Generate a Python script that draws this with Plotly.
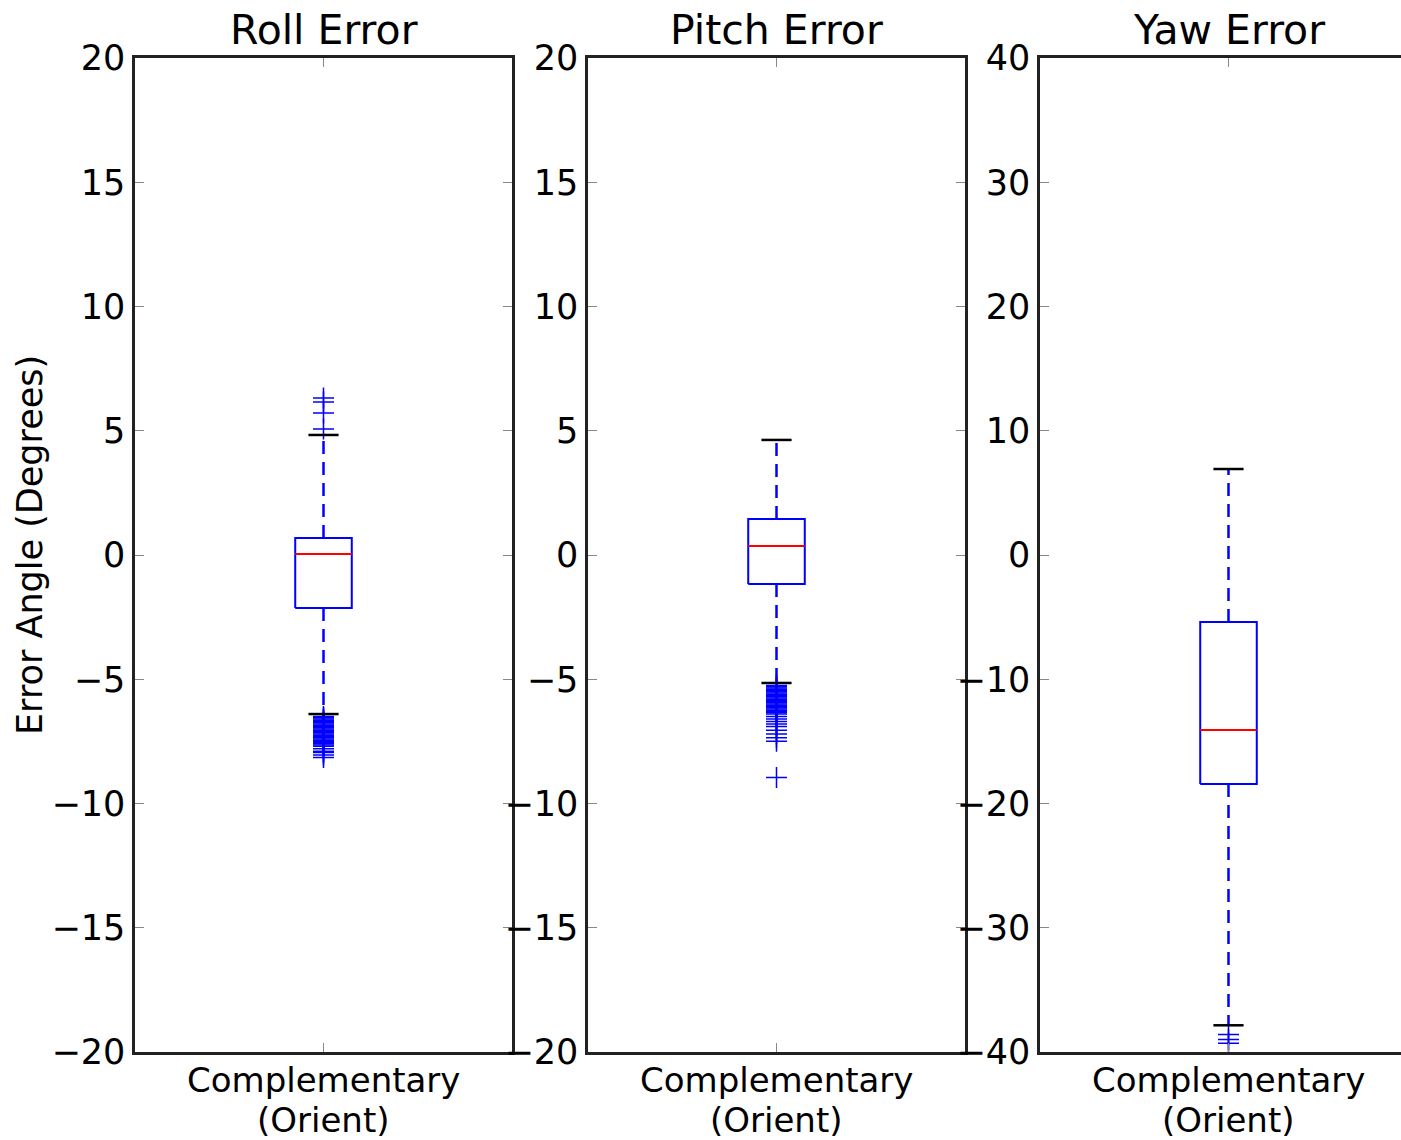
import plotly.graph_objects as go

# ---------------- data ----------------
titles = ["Roll Error", "Pitch Error", "Yaw Error"]
category_label_lines = ["Complementary", "(Orient)"]
y_ranges = [[-20, 20], [-20, 20], [-40, 40]]
y_tickvals = [[-20, -15, -10, -5, 0, 5, 10, 15, 20],
              [-20, -15, -10, -5, 0, 5, 10, 15, 20],
              [-40, -30, -20, -10, 0, 10, 20, 30, 40]]

q1 = [-2.13, -1.17, -18.43]
median = [0.04, 0.36, -14.08]
q3 = [0.68, 1.45, -5.39]
lower_whisker = [-6.4, -5.15, -37.85]
upper_whisker = [4.83, 4.63, 6.92]

roll_outliers = [6.32, 6.16, 5.71, 5.07,
                 -6.5, -6.55, -6.6, -6.65, -6.7, -6.75, -6.8, -6.85, -6.9, -6.95,
                 -7.0, -7.05, -7.1, -7.15, -7.2, -7.25, -7.3, -7.35, -7.4, -7.45,
                 -7.5, -7.55, -7.6, -7.65, -7.7, -7.8, -7.9, -7.95, -8.05, -8.15]
pitch_outliers = [-5.25, -5.3, -5.35, -5.4, -5.45, -5.5, -5.55, -5.6, -5.65, -5.7,
                  -5.75, -5.8, -5.85, -5.9, -5.95, -6.0, -6.05, -6.1, -6.15, -6.2,
                  -6.25, -6.3, -6.35, -6.4, -6.5, -6.6, -6.7, -6.8, -6.9,
                  -7.05, -7.2, -7.35, -7.5, -8.95]
yaw_outliers = [-38.6, -39.0, -39.3]
outliers = [roll_outliers, pitch_outliers, yaw_outliers]

# ---------------- styling ----------------
W, H = 1401, 1140
FONT = "DejaVu Sans"
pos = 1.0
box_half = 0.075
cap_half = 0.04
x_domains = [[135 / W, 512 / W], [588 / W, 965 / W], [1040 / W, 1.0]]
y_domain = [1 - 1052 / H, 1 - 58 / H]
x_ranges = [[0.5, 1.5], [0.5, 1.5], [0.5, 0.5 + (W - 1040) / 377]]
label_line_y = [1080, 1120]  # pixel centres of the two category-label lines

fig = go.Figure()

for i in range(3):
    xa = "x" if i == 0 else f"x{i+1}"
    ya = "y" if i == 0 else f"y{i+1}"
    # whiskers (dashed blue)
    fig.add_trace(go.Scatter(x=[pos, pos], y=[q3[i], upper_whisker[i]], mode="lines",
                             line=dict(color="#0000ff", width=2.5, dash="13px,8px"),
                             xaxis=xa, yaxis=ya, showlegend=False, hoverinfo="skip"))
    fig.add_trace(go.Scatter(x=[pos, pos], y=[q1[i], lower_whisker[i]], mode="lines",
                             line=dict(color="#0000ff", width=2.5, dash="13px,8px"),
                             xaxis=xa, yaxis=ya, showlegend=False, hoverinfo="skip"))
    # outliers
    fig.add_trace(go.Scatter(x=[pos] * len(outliers[i]), y=outliers[i], mode="markers",
                             marker=dict(symbol="cross-thin", size=15, color="#0000ff",
                                         line=dict(color="#0000ff", width=1.5)),
                             xaxis=xa, yaxis=ya, showlegend=False))
    # caps (black)
    for v in (upper_whisker[i], lower_whisker[i]):
        fig.add_trace(go.Scatter(x=[pos - cap_half, pos + cap_half], y=[v, v], mode="lines",
                                 line=dict(color="black", width=2.5),
                                 xaxis=xa, yaxis=ya, showlegend=False, hoverinfo="skip"))
    # box (blue)
    fig.add_trace(go.Scatter(x=[pos - box_half, pos + box_half, pos + box_half, pos - box_half, pos - box_half],
                             y=[q1[i], q1[i], q3[i], q3[i], q1[i]], mode="lines",
                             fill="toself", fillcolor="white",
                             line=dict(color="#0000ff", width=2),
                             xaxis=xa, yaxis=ya, showlegend=False, hoverinfo="skip"))
    # median (red)
    fig.add_trace(go.Scatter(x=[pos - box_half, pos + box_half], y=[median[i], median[i]], mode="lines",
                             line=dict(color="#ff0000", width=2),
                             xaxis=xa, yaxis=ya, showlegend=False, hoverinfo="skip"))

    key_x = "xaxis" if i == 0 else f"xaxis{i+1}"
    key_y = "yaxis" if i == 0 else f"yaxis{i+1}"
    fig.layout[key_x] = dict(domain=x_domains[i], range=x_ranges[i], anchor=ya,
                             automargin=False,
                             tickvals=[pos], showticklabels=False,
                             ticks="inside", ticklen=9, tickcolor="#888", tickwidth=1,
                             showline=True, linecolor="#222", linewidth=2.5, mirror="ticks",
                             showgrid=False, zeroline=False)
    fig.layout[key_y] = dict(domain=y_domain, range=y_ranges[i], anchor=xa,
                             automargin=False,
                             tickvals=y_tickvals[i],
                             ticktext=[str(v).replace("-", "\u2212") for v in y_tickvals[i]],
                             ticks="inside", ticklen=9, tickcolor="#888", tickwidth=1,
                             showline=True, linecolor="#222", linewidth=2.5,
                             mirror=("ticks" if i < 2 else False),
                             showgrid=False, zeroline=False,
                             tickfont=dict(family=FONT, size=35, color="black"))
    # category tick label (two lines, placed under the tick at x = pos)
    for line_text, py in zip(category_label_lines, label_line_y):
        fig.add_annotation(text=line_text, xref=xa, yref="paper", x=pos, y=1 - py / H,
                           xanchor="center", yanchor="middle", showarrow=False,
                           font=dict(family=FONT, size=34, color="black"))
    fig.add_annotation(text=titles[i], xref="paper", yref="paper",
                       x=(x_domains[i][0] * W + 188.5) / W, y=y_domain[1],
                       xanchor="center", yanchor="bottom", yshift=2, showarrow=False,
                       font=dict(family=FONT, size=41, color="black"))

fig.add_annotation(text="Error Angle (Degrees)", xref="paper", yref="paper",
                   x=30 / W, y=1 - 545 / H, textangle=-90,
                   xanchor="center", yanchor="middle", showarrow=False,
                   font=dict(family=FONT, size=35, color="black"))

fig.update_layout(width=W, height=H, margin=dict(l=0, r=0, t=0, b=0, autoexpand=False),
                  paper_bgcolor="white", plot_bgcolor="white",
                  font=dict(family=FONT, color="black"))

fig.write_html("out.html")
